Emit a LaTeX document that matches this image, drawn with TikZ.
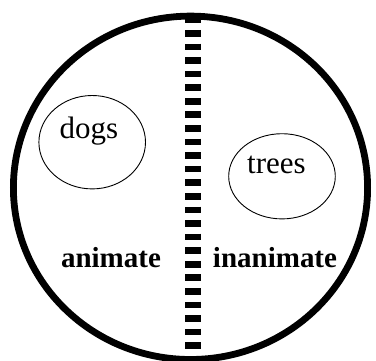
\documentclass[tikz,border=0pt]{standalone}
\usepackage{fontspec}
\setmainfont{Liberation Serif}
\usetikzlibrary{shapes.geometric}

\begin{document}
\begin{tikzpicture}[x=1pt,y=-1pt,
  set/.style={draw,ellipse,line width=0.9pt,inner sep=0pt},
  word/.style={anchor=base,inner sep=0pt,font=\fontsize{31}{31}\selectfont},
  kind/.style={anchor=base,inner sep=0pt,font=\fontsize{29}{29}\selectfont\bfseries},
  split/.style={line width=16pt,dash pattern=on 6.7pt off 6.88pt}]
\useasboundingbox (0,0) rectangle (376,360);
\draw[line width=6.8pt] (190.5,187.8) ellipse [x radius=177.1,y radius=171.7];
\coordinate (top) at (193,16.4);
\coordinate (bot) at (193,366);
\draw[split] (top) -- (bot);
\node[set,minimum width=106.6pt,minimum height=93.4pt] (d) at (92.2,142.2) {};
\node[set,minimum width=106.6pt,minimum height=85.2pt] (t) at (282,176.3) {};
\node[word] (dl) at (89,138) {dogs};
\node[word] (tl) at (276.5,173) {trees};
\node[kind] (an) at (111,267) {animate};
\node[kind] (in) at (275,267) {inanimate};
\end{tikzpicture}
\end{document}
